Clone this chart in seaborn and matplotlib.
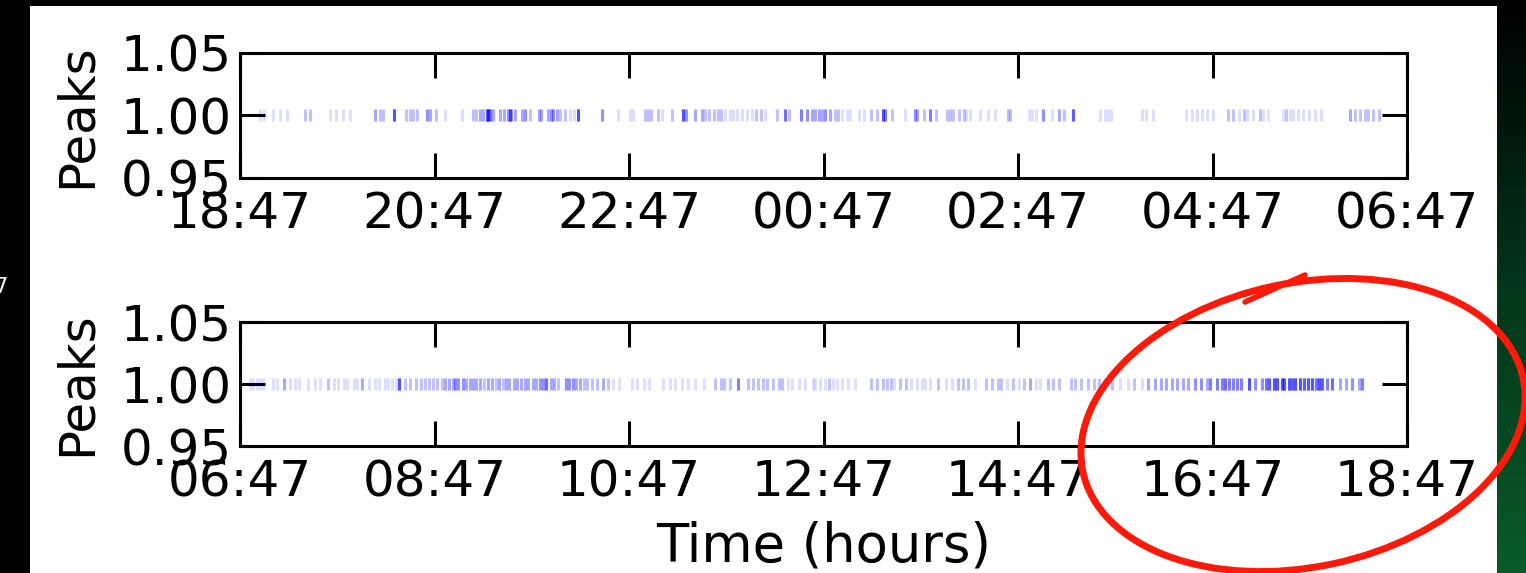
import numpy as np
import pandas as pd
import matplotlib
matplotlib.use("Agg")
import matplotlib.pyplot as plt
import matplotlib.patches as mpatches
import matplotlib.lines as mlines
from matplotlib.transforms import IdentityTransform
from matplotlib.colors import LinearSegmentedColormap
import seaborn as sns

# ---------------- data (hours after window start, and number of overlapping peaks) ----------------
top_labels = ["18:47", "20:47", "22:47", "00:47", "02:47", "04:47", "06:47"]
bottom_labels = ["06:47", "08:47", "10:47", "12:47", "14:47", "16:47", "18:47"]
tick_hours = [0, 2, 4, 6, 8, 10, 12]
y_ticks = [0.95, 1.00, 1.05]
y_ticklabels = ["0.95", "1.00", "1.05"]

times_top = [0.21, 0.25, 0.34, 0.41, 0.48, 0.67, 0.72, 0.93, 0.99, 1.06, 1.13, 1.39, 1.44, 1.47, 1.58,
             1.71, 1.75, 1.78, 1.82, 1.92, 1.95, 2.02, 2.11, 2.28, 2.40, 2.43, 2.47, 2.50, 2.54, 2.55,
             2.57, 2.60, 2.67, 2.71, 2.76, 2.78, 2.79, 2.83, 2.90, 2.93, 2.98, 3.07, 3.10, 3.17, 3.20,
             3.22, 3.26, 3.29, 3.34, 3.39, 3.43, 3.48, 3.72, 3.89, 4.01,
             4.04, 4.16, 4.20, 4.23, 4.30, 4.34, 4.44, 4.56, 4.59, 4.68, 4.75, 4.78, 4.82, 4.87, 4.92,
             4.95, 4.99, 5.04, 5.07, 5.11, 5.16, 5.21, 5.26, 5.31, 5.36, 5.40, 5.52, 5.60, 5.65, 5.77,
             5.83, 5.88, 5.91, 5.95, 5.98, 6.02, 6.07, 6.12, 6.15, 6.19, 6.24, 6.27, 6.36, 6.42, 6.49,
             6.55, 6.61, 6.63, 6.70, 6.84, 6.94, 6.96, 7.03, 7.10, 7.16, 7.27, 7.30, 7.33, 7.39, 7.44,
             7.47, 7.51, 7.61, 7.69, 7.76, 7.90, 7.92,
             8.11, 8.14, 8.19, 8.26, 8.35, 8.42, 8.47, 8.57, 8.84, 8.89, 8.93, 8.96, 9.27, 9.32, 9.39,
             9.73, 9.79, 9.84, 9.89, 9.94, 10.01, 10.16, 10.21, 10.27, 10.32, 10.35, 10.42, 10.49,
             10.52, 10.57, 10.73, 10.76, 10.80, 10.83, 10.88, 10.93, 10.99, 11.05, 11.12, 11.41, 11.47,
             11.52, 11.57, 11.60, 11.65, 11.71]
counts_top = [1, 1, 1, 1, 1, 2, 2, 1, 1, 1, 1, 3, 2, 2, 8,
              2, 2, 2, 2, 4, 3, 2, 1, 1, 2, 2, 3, 3, 7, 7,
              6, 3, 3, 3, 4, 6, 4, 3, 3, 4, 2, 3, 3, 3, 4,
              4, 3, 2, 2, 1, 1, 8, 4, 1, 1,
              1, 2, 2, 2, 2, 1, 2, 8, 4, 3, 3, 2, 2, 2, 2,
              2, 1, 1, 1, 1, 1, 1, 1, 2, 2, 1, 2, 6, 2, 5,
              4, 3, 3, 3, 3, 4, 3, 2, 2, 1, 1, 1, 1, 1, 2,
              2, 8, 5, 2, 1, 4, 3, 2, 5, 2, 2, 2, 2, 2, 2,
              1, 1, 1, 1, 1, 2, 2,
              1, 1, 1, 4, 1, 3, 2, 7, 1, 1, 1, 1, 1, 1, 1,
              1, 1, 1, 1, 1, 1, 2, 2, 1, 2, 1, 1, 2,
              1, 1, 1, 2, 1, 1, 1, 1, 1, 1, 1, 3, 2,
              2, 2, 2, 2, 2]

times_bottom = [0.10, 0.13, 0.17, 0.21, 0.24, 0.34, 0.38, 0.45, 0.51, 0.57, 0.61, 0.70, 0.77, 0.82, 0.91,
                0.97, 1.01, 1.07, 1.10, 1.17, 1.20, 1.25, 1.33, 1.39, 1.43, 1.49, 1.52, 1.56, 1.60, 1.64,
                1.70, 1.75, 1.81, 1.86, 1.90, 1.94, 1.98, 2.03, 2.08, 2.11, 2.15, 2.19, 2.21, 2.24, 2.29,
                2.32, 2.36, 2.40, 2.43, 2.47, 2.51, 2.55, 2.59, 2.63, 2.66, 2.70, 2.74, 2.77, 2.82, 2.85,
                2.89, 2.93, 2.96, 3.01, 3.04, 3.08, 3.12, 3.15, 3.20, 3.23, 3.27, 3.35, 3.38, 3.42, 3.46,
                3.50, 3.54, 3.57, 3.62, 3.67, 3.73, 3.78, 3.84, 3.90, 4.03, 4.08, 4.15, 4.21, 4.35, 4.42,
                4.47, 4.55, 4.61, 4.68, 4.77, 4.88, 4.95, 4.98, 5.04, 5.12, 5.22, 5.27, 5.33, 5.38, 5.42,
                5.48, 5.54, 5.57, 5.63, 5.68, 5.75, 5.81, 5.89,
                5.91, 5.96, 6.02, 6.06, 6.10, 6.14, 6.19, 6.25, 6.32, 6.49, 6.55, 6.61, 6.65, 6.69, 6.72,
                6.79, 6.85, 6.90, 6.96, 7.01, 7.04, 7.10, 7.18, 7.26, 7.32, 7.38, 7.43, 7.49, 7.56, 7.67,
                7.73, 7.79, 7.83, 7.89, 7.95, 8.01, 8.06, 8.12, 8.18, 8.23, 8.31, 8.36, 8.42, 8.54, 8.59,
                8.65, 8.72, 8.78, 8.83, 8.89, 8.97, 9.05, 9.13, 9.19, 9.28, 9.34, 9.41, 9.47, 9.52, 9.58,
                9.64, 9.70, 9.75, 9.82, 9.88, 9.94, 9.97, 10.05, 10.10, 10.13, 10.17, 10.21, 10.25, 10.29,
                10.38, 10.44, 10.51, 10.55, 10.58, 10.63, 10.66, 10.71, 10.74, 10.79, 10.82, 10.85, 10.90,
                10.94, 10.98, 11.02, 11.06, 11.10, 11.13, 11.18, 11.23, 11.31, 11.37, 11.43, 11.51, 11.54]
counts_bottom = [1, 1, 1, 1, 1, 1, 1, 3, 1, 1, 1, 1, 1, 1, 2,
                 1, 1, 1, 1, 1, 1, 3, 1, 1, 1, 1, 1, 1, 1, 8,
                 2, 2, 2, 2, 2, 2, 2, 2, 2, 3, 3, 3, 4, 4, 4,
                 3, 3, 3, 3, 3, 2, 3, 3, 2, 3, 2, 3, 3, 3, 3,
                 3, 3, 3, 3, 3, 4, 4, 6, 3, 3, 2, 4, 4, 4, 3,
                 3, 2, 2, 2, 2, 3, 2, 1, 1, 1, 1, 1, 1, 1, 1,
                 1, 1, 1, 1, 1, 2, 2, 2, 2, 5, 2, 2, 2, 2, 2,
                 2, 2, 2, 1, 1, 1, 1, 1,
                 1, 1, 1, 2, 1, 1, 1, 1, 1, 2, 2, 2, 2, 2, 1,
                 2, 2, 1, 1, 1, 1, 1, 2, 1, 1, 2, 2, 2, 1, 2,
                 2, 2, 2, 1, 2, 1, 2, 3, 1, 1, 2, 2, 2, 2, 2,
                 2, 2, 2, 2, 2, 2, 1, 1, 2, 1, 3, 3, 3, 3, 3,
                 3, 3, 3, 4, 4, 3, 5, 5, 5, 6, 5, 5, 5, 5,
                 8, 4, 4, 6, 7, 8, 8, 8, 8, 8, 7, 8, 8,
                 7, 8, 8, 6, 8, 7, 5, 6, 3, 3, 4, 3, 5]

peak_value = 1.0

# ---------------- figure ----------------
sns.set_style("ticks")
plt.rcParams["font.family"] = ["DejaVu Sans"]
plt.rcParams["text.color"] = "black"
plt.rcParams["axes.labelcolor"] = "black"
W, H = 1526, 573
fig = plt.figure(figsize=(W / 100, H / 100), dpi=100, facecolor="black")

# white slide area
fig.patches.append(mpatches.Rectangle((30 / W, 0), 1467 / W, 567 / H, transform=fig.transFigure,
                                      facecolor="white", edgecolor="none", zorder=-5))
# green gradient strip on the right
gax = fig.add_axes([1497 / W, 0, 29 / W, 1])
grad = np.linspace(0, 1, 256).reshape(-1, 1)
gcmap = LinearSegmentedColormap.from_list("g", ["#000000", "#03361a", "#0a5a28"])
gax.imshow(grad, aspect="auto", cmap=gcmap, origin="upper")
gax.set_axis_off()

fig.text(-6 / W, 1 - 287 / H, "7", color="white", fontsize=15, ha="left", va="center")

FS = 36
ax_top = fig.add_axes([240 / W, 1 - 178 / H, 1167 / W, 125 / H])
ax_bot = fig.add_axes([240 / W, 1 - 446 / H, 1167 / W, 124 / H])

panels = [(ax_top, times_top, counts_top, top_labels),
          (ax_bot, times_bottom, counts_bottom, bottom_labels)]
for ax, times, counts, labels in panels:
    t = np.repeat(np.array(times), np.array(counts))
    df = pd.DataFrame({"hours": t, "peaks": np.full(t.shape, peak_value)})
    sns.scatterplot(data=df, x="hours", y="peaks", ax=ax, marker="|", s=75,
                    color="blue", alpha=0.13, linewidth=2.2, legend=False)
    ax.set_xlim(0, 12)
    ax.set_ylim(0.95, 1.05)
    ax.set_xticks(tick_hours)
    ax.set_xticklabels(labels, fontsize=FS, color="black")
    ax.set_yticks(y_ticks)
    ax.set_yticklabels(y_ticklabels, fontsize=FS, color="black")
    ax.tick_params(direction="in", length=18, width=2.2, top=True, right=True,
                   colors="black")
    ax.tick_params(axis="x", pad=9)
    ax.tick_params(axis="y", pad=6)
    for sp in ax.spines.values():
        sp.set_visible(True)
        sp.set_color("black")
        sp.set_linewidth(2.2)
    ax.set_facecolor("white")
    ax.set_ylabel("Peaks", fontsize=FS, labelpad=14, color="black")
    ax.set_xlabel("")

ax_bot.set_xlabel("Time (hours)", fontsize=38, labelpad=10, color="black")

# red hand-drawn annotation ellipse (in pixel coordinates)
ell = mpatches.Ellipse((1303, H - 425), 450, 284, angle=12, fill=False, edgecolor="#fe1a0a",
                       linewidth=5.0, transform=IdentityTransform(), zorder=20)
fig.patches.append(ell)
stroke = mlines.Line2D([1245, 1305], [H - 302, H - 275], color="#fe1a0a", linewidth=4.0,
                       solid_capstyle="round", transform=IdentityTransform(), zorder=20)
fig.lines.append(stroke)

fig.savefig("out.png", dpi=100, facecolor="black")
